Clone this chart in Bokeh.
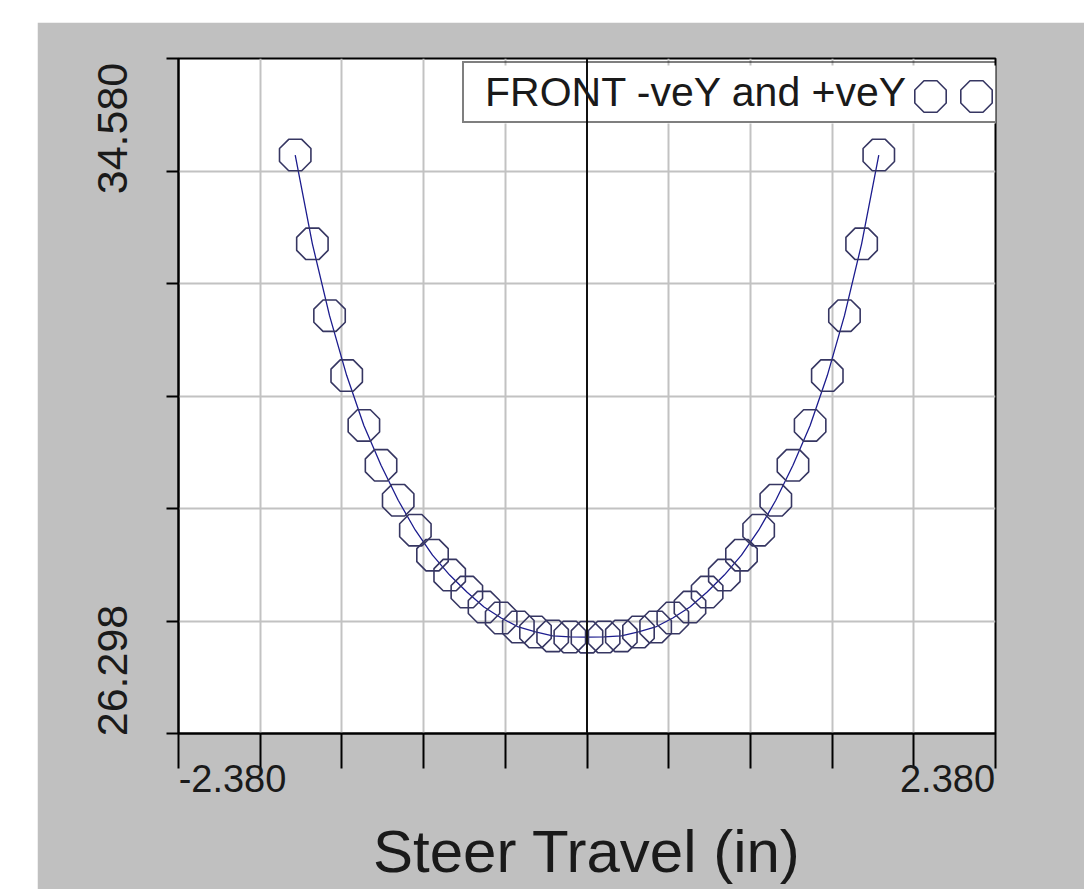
import numpy as np
from bokeh.plotting import figure
from bokeh.models import Range1d, FixedTicker, Span, Legend, LegendItem
from bokeh.layouts import column, row, Spacer
from bokeh.embed import file_html
from bokeh.resources import INLINE

# ---------------- data ----------------
steer_travel = [-1.7, -1.6, -1.5, -1.4, -1.3, -1.2, -1.1, -1.0, -0.9, -0.8, -0.7, -0.6,
                -0.5, -0.4, -0.3, -0.2, -0.1, 0.0, 0.1, 0.2, 0.3, 0.4, 0.5, 0.6, 0.7,
                0.8, 0.9, 1.0, 1.1, 1.2, 1.3, 1.4, 1.5, 1.6, 1.7]
front_value = [34.874, 33.239, 31.917, 30.815, 29.897, 29.163, 28.520, 27.969, 27.510,
               27.143, 26.831, 26.555, 26.353, 26.188, 26.096, 26.023, 26.004, 26.000,
               26.004, 26.023, 26.096, 26.188, 26.353, 26.555, 26.831, 27.143, 27.510,
               27.969, 28.520, 29.163, 29.897, 30.815, 31.917, 33.239, 34.874]
x_tick_labels = ["-2.380", "2.380"]
y_tick_labels = ["26.298", "34.580"]
series_label = "FRONT -veY and +veY"
x_title = "Steer Travel (in)"

# ---------------- scales ----------------
x_lo, x_hi = float(x_tick_labels[0]), float(x_tick_labels[1])
y_lo_lab, y_hi_lab = float(y_tick_labels[0]), float(y_tick_labels[1])
x_step = (x_hi - x_lo) / 10
y_step = (y_hi_lab - y_lo_lab) / 4
y_lo, y_hi = y_lo_lab - y_step, y_hi_lab + y_step
x_ticks = [x_lo + k * x_step for k in range(11)]
x_grid = [t for t in x_ticks if abs(t) > 1e-9]
y_ticks = [y_lo + k * y_step for k in range(7)]

W, H = 1047, 867
ML, MR, MT, MB = 141, 89, 36, 156
FW, FH = W - ML - MR, H - MT - MB
ppx = FW / (x_hi - x_lo)
ppy = FH / (y_hi - y_lo)

def dx(px):
    return px / ppx

def dy(px):
    return px / ppy

FONT = "Liberation Sans"
TXT = "#1a1a1a"
MARK = "#363662"

p = figure(width=W, height=H, x_range=Range1d(x_lo, x_hi), y_range=Range1d(y_lo, y_hi),
           output_backend="svg", toolbar_location=None,
           min_border_left=ML, min_border_right=MR, min_border_top=MT, min_border_bottom=MB,
           background_fill_color="white", border_fill_color="#c0c0c0",
           outline_line_color="black", outline_line_width=2)

# ---- x axis: labels aligned to the range ends, tick marks as minor ticks ----
xl_pos = [x_lo + dx(54), x_hi - dx(48)]
xa = p.xaxis[0]
xa.ticker = FixedTicker(ticks=xl_pos, minor_ticks=x_ticks)
xa.major_label_overrides = {xl_pos[0]: x_tick_labels[0], xl_pos[1]: x_tick_labels[1]}
xa.major_tick_line_color = None
xa.major_tick_out = 0
xa.major_tick_in = 0
xa.minor_tick_out = 35
xa.minor_tick_in = 0
xa.minor_tick_line_color = "black"
xa.minor_tick_line_width = 2
xa.axis_line_color = "black"
xa.axis_line_width = 2
xa.major_label_text_font = FONT
xa.major_label_text_font_size = "38px"
xa.major_label_text_color = TXT
xa.major_label_standoff = -4
xa.axis_label = x_title
xa.axis_label_text_font = FONT
xa.axis_label_text_font_size = "60px"
xa.axis_label_text_font_style = "normal"
xa.axis_label_text_color = TXT
xa.axis_label_standoff = 23

# ---- y axis ----
yl_pos = [y_lo + dy(63), y_hi - dy(70)]
ya = p.yaxis[0]
ya.ticker = FixedTicker(ticks=yl_pos, minor_ticks=y_ticks)
ya.major_label_overrides = {yl_pos[0]: y_tick_labels[0], yl_pos[1]: y_tick_labels[1]}
ya.major_label_orientation = "vertical"
ya.major_tick_line_color = None
ya.major_tick_out = 0
ya.major_tick_in = 0
ya.minor_tick_out = 12
ya.minor_tick_in = 0
ya.minor_tick_line_color = "black"
ya.minor_tick_line_width = 2
ya.axis_line_color = "black"
ya.axis_line_width = 2
ya.major_label_text_font = FONT
ya.major_label_text_font_size = "43px"
ya.major_label_text_color = TXT
ya.major_label_standoff = 40

p.xgrid.ticker = FixedTicker(ticks=x_grid)
p.ygrid.ticker = FixedTicker(ticks=y_ticks)
p.xgrid.grid_line_color = "#c2c2c2"
p.xgrid.grid_line_width = 2
p.ygrid.grid_line_color = "#c2c2c2"
p.ygrid.grid_line_width = 2

# ---- legend box area (white panel, keys, border + text from the Legend) ----
LEG_L, LEG_T, LEG_R, LEG_B = 462, 65, 1018, 123
PAD = 5
p.quad(left=[x_lo + dx(LEG_L - 178)], right=[x_lo + dx(LEG_R - 178)],
       top=[y_hi - dy(LEG_T - 58)], bottom=[y_hi - dy(LEG_B - 58)],
       fill_color="white", line_color=None)

# ---- data ----
line_r = p.line(steer_travel, front_value, line_color="#1c1c8e", line_width=1.3)
oct_r = p.ngon(x=steer_travel, y=front_value, radius=dx(17), n=8, angle=np.pi / 8,
               radius_dimension="x", fill_color=None, line_color=MARK, line_width=1.6)

key_x = [x_lo + dx(930 - 178), x_lo + dx(976 - 178)]
key_y = [y_hi - dy(96 - 58), y_hi - dy(96 - 58)]
p.ngon(x=key_x, y=key_y, radius=dx(17), n=8, angle=np.pi / 8, radius_dimension="x",
       fill_color=None, line_color=MARK, line_width=1.6)

# centre line
p.add_layout(Span(location=0.0, dimension="height", line_color="#111111", line_width=2))

key_r = p.line(x=[], y=[], line_alpha=0)
legend = Legend(items=[LegendItem(label=series_label, renderers=[key_r])],
                location=(LEG_L - 178, 733 - LEG_B),
                glyph_width=16, glyph_height=20, label_standoff=0, padding=PAD, margin=0,
                label_width=(LEG_R - LEG_L) - 2 * PAD - 16,
                label_height=LEG_B - LEG_T - 2 * PAD,
                label_text_font=FONT, label_text_font_size="41px", label_text_color=TXT,
                background_fill_alpha=0,
                border_line_color="black", border_line_width=2)
p.add_layout(legend)

layout = column(Spacer(height=22), row(Spacer(width=37), p))
open("out.html", "w").write(file_html(layout, INLINE))
